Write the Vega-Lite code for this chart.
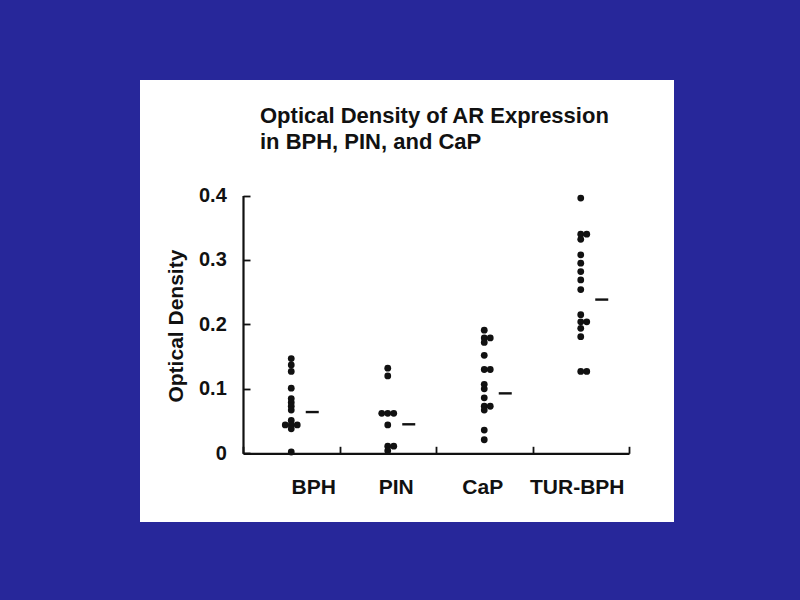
{
  "$schema": "https://vega.github.io/schema/vega-lite/v6.json",
  "width": 534,
  "height": 442,
  "autosize": {"type": "none"},
  "padding": {"left": 140, "top": 80, "right": 126, "bottom": 78},
  "background": "#27279a",
  "config": {
    "view": {"fill": "white", "stroke": null},
    "font": "Liberation Sans"
  },
  "title": {
    "text": ["Optical Density of AR Expression", "in BPH, PIN, and CaP"],
    "anchor": "start",
    "frame": "group",
    "orient": "top",
    "offset": 0,
    "dx": 120,
    "dy": 91,
    "baseline": "alphabetic",
    "font": "Liberation Sans",
    "fontSize": 22,
    "fontWeight": "bold",
    "lineHeight": 26,
    "color": "#111111"
  },
  "datasets": {
    "points": [
      {"group": "BPH", "value": 0.147},
      {"group": "BPH", "value": 0.137},
      {"group": "BPH", "value": 0.127},
      {"group": "BPH", "value": 0.101},
      {"group": "BPH", "value": 0.085},
      {"group": "BPH", "value": 0.079},
      {"group": "BPH", "value": 0.073},
      {"group": "BPH", "value": 0.067},
      {"group": "BPH", "value": 0.051},
      {"group": "BPH", "value": 0.044},
      {"group": "BPH", "value": 0.044},
      {"group": "BPH", "value": 0.044},
      {"group": "BPH", "value": 0.038},
      {"group": "BPH", "value": 0.002},
      {"group": "PIN", "value": 0.132},
      {"group": "PIN", "value": 0.120},
      {"group": "PIN", "value": 0.062},
      {"group": "PIN", "value": 0.062},
      {"group": "PIN", "value": 0.062},
      {"group": "PIN", "value": 0.044},
      {"group": "PIN", "value": 0.011},
      {"group": "PIN", "value": 0.011},
      {"group": "PIN", "value": 0.004},
      {"group": "CaP", "value": 0.191},
      {"group": "CaP", "value": 0.179},
      {"group": "CaP", "value": 0.179},
      {"group": "CaP", "value": 0.172},
      {"group": "CaP", "value": 0.152},
      {"group": "CaP", "value": 0.130},
      {"group": "CaP", "value": 0.130},
      {"group": "CaP", "value": 0.107},
      {"group": "CaP", "value": 0.100},
      {"group": "CaP", "value": 0.086},
      {"group": "CaP", "value": 0.073},
      {"group": "CaP", "value": 0.073},
      {"group": "CaP", "value": 0.067},
      {"group": "CaP", "value": 0.036},
      {"group": "CaP", "value": 0.021},
      {"group": "TUR-BPH", "value": 0.396},
      {"group": "TUR-BPH", "value": 0.340},
      {"group": "TUR-BPH", "value": 0.340},
      {"group": "TUR-BPH", "value": 0.332},
      {"group": "TUR-BPH", "value": 0.308},
      {"group": "TUR-BPH", "value": 0.295},
      {"group": "TUR-BPH", "value": 0.282},
      {"group": "TUR-BPH", "value": 0.269},
      {"group": "TUR-BPH", "value": 0.254},
      {"group": "TUR-BPH", "value": 0.215},
      {"group": "TUR-BPH", "value": 0.204},
      {"group": "TUR-BPH", "value": 0.204},
      {"group": "TUR-BPH", "value": 0.194},
      {"group": "TUR-BPH", "value": 0.181},
      {"group": "TUR-BPH", "value": 0.127},
      {"group": "TUR-BPH", "value": 0.127}
    ],
    "medians": [
      {"group": "BPH", "value": 0.064},
      {"group": "PIN", "value": 0.045},
      {"group": "CaP", "value": 0.093},
      {"group": "TUR-BPH", "value": 0.2385}
    ]
  },
  "encoding": {
    "x": {
      "field": "group",
      "type": "nominal",
      "sort": ["BPH", "PIN", "CaP", "TUR-BPH"],
      "scale": {"range": [103, 489], "paddingInner": 0, "paddingOuter": 0},
      "axis": {
        "title": null,
        "offset": -68.7,
        "labelAngle": 0,
        "labelFont": "Liberation Sans",
        "labelFontSize": 21,
        "labelFontWeight": "bold",
        "labelColor": "#111111",
        "labelPadding": 29.7,
        "labelOffset": {
          "condition": [
            {"test": "datum.value === 'BPH'", "value": 22},
            {"test": "datum.value === 'PIN'", "value": 8},
            {"test": "datum.value === 'CaP'", "value": -2}
          ],
          "value": -4
        },
        "tickBand": "extent",
        "tickSize": -7,
        "tickWidth": 1.8,
        "tickColor": "#111111",
        "domainWidth": 2.2,
        "domainColor": "#111111"
      }
    },
    "y": {
      "field": "value",
      "type": "quantitative",
      "scale": {"domain": [0, 0.4], "range": [373.3, 115.5], "nice": false, "zero": true},
      "axis": {
        "title": "Optical Density",
        "titleFont": "Liberation Sans",
        "titleFontSize": 21,
        "titleFontWeight": "bold",
        "titleColor": "#111111",
        "titleAngle": -90,
        "titleBaseline": "alphabetic",
        "titleAlign": "center",
        "titleX": -61,
        "titleY": 245.6,
        "offset": -103,
        "values": [0, 0.1, 0.2, 0.3, 0.4],
        "format": ".1~f",
        "grid": false,
        "labelFont": "Liberation Sans",
        "labelFontSize": 20,
        "labelFontWeight": "bold",
        "labelColor": "#111111",
        "labelPadding": 23.7,
        "tickSize": -7,
        "tickWidth": 1.8,
        "tickColor": "#111111",
        "domainWidth": 2.2,
        "domainColor": "#111111"
      }
    }
  },
  "layer": [
    {
      "data": {"name": "points"},
      "transform": [
        {"window": [{"op": "row_number", "as": "rank"}], "groupby": ["group", "value"]}
      ],
      "mark": {"type": "circle", "size": 46, "opacity": 1, "color": "#111111"},
      "encoding": {
        "xOffset": {
          "field": "rank",
          "type": "quantitative",
          "scale": {"domain": [1, 2, 3], "range": [48.25, 54.25, 42.25]}
        }
      }
    },
    {
      "data": {"name": "medians"},
      "mark": {"type": "tick", "size": 13, "thickness": 2.4, "xOffset": 21, "color": "#111111", "opacity": 1}
    }
  ]
}
